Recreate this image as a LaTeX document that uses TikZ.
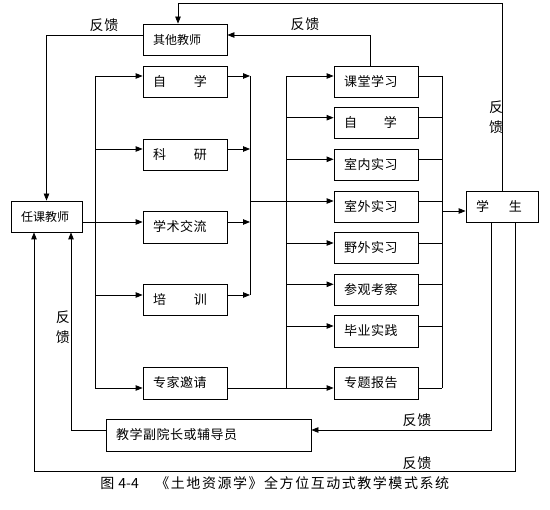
\documentclass[tikz,border=0pt]{standalone}
\usepackage{fontspec}
\setmainfont{Noto Sans CJK SC}
\newfontfamily\spacedfam[LetterSpace=4.0]{Noto Sans CJK SC}
\newfontfamily\fbfam[LetterSpace=4.0]{Noto Sans CJK SC}
\newfontfamily\capfam[LetterSpace=11.0]{Noto Sans CJK SC}
\newcommand\myboxfont{\spacedfam\fontsize{13pt}{13pt}\selectfont}
\newcommand\myplainfont{\fontsize{12pt}{12pt}\selectfont}
\newcommand\myfbfont{\fbfam\fontsize{14pt}{20pt}\selectfont}
\newcommand\mycapfont{\capfam\fontsize{14pt}{14pt}\selectfont}
\newcommand\mycapplain{\fontsize{14pt}{14pt}\selectfont}
\usetikzlibrary{arrows.meta}
\begin{document}
\begin{tikzpicture}[x=1pt,y=-1pt,line width=0.8pt,
  box/.style={draw,minimum height=31pt,inner xsep=10pt,inner ysep=0pt,align=left,text width=#1,font=\myboxfont},
  box/.default=64pt,
  arr/.style={-{Triangle[length=7pt,width=5.5pt]}},
  fb/.style={font=\myfbfont,inner sep=0pt,align=center}]
\useasboundingbox (0,0) rectangle (550,510);

% left column
\node[box,font=\myplainfont] (qita) at (185,39.5) {其他教师};
\node[box] (zixueA) at (185,81.5) {自\hspace{28pt}学};
\node[box] (keyan) at (185,154.5) {科\hspace{28pt}研};
\node[box,minimum height=32pt] (xueshu) at (185,227) {学术交流};
\node[box] (peixun) at (185,299.5) {培\hspace{28pt}训};
\node[box,minimum height=32pt] (zhuanjia) at (185,383) {专家邀请};
\node[box=51pt,font=\myplainfont] (renke) at (46.5,216.5) {任课教师};
\node[box=185pt,minimum height=32pt] (fuyuan) at (208.5,435) {教学副院长或辅导员};

% right column
\node[box] (ketang) at (376,81.5) {课堂学习};
\node[box] (zixueB) at (376,122.5) {自\hspace{27pt}学};
\node[box] (shinei) at (376,164.5) {室内实习};
\node[box] (shiwai) at (376,206.5) {室外实习};
\node[box] (yewai) at (376,247.5) {野外实习};
\node[box] (canguan) at (376,289.5) {参观考察};
\node[box,minimum height=32pt] (biye) at (376,331) {毕业实践};
\node[box,minimum height=32pt] (zhuanti) at (376,383) {专题报告};
\node[box=52pt] (xuesheng) at (502,206.5) {学\hspace{20pt}生};

% left bus
\coordinate (L1) at (95,76);
\coordinate (L2) at (95,149);
\coordinate (L4) at (95,295);
\coordinate (L5) at (95,388);
\draw (L1) -- (L5);
\draw[arr] (L1) -- (zixueA.west |- L1);
\draw[arr] (L2) -- (keyan.west |- L2);
\draw[arr] (renke.east |- 0,222) -- (xueshu.west |- 0,222);
\draw[arr] (L4) -- (peixun.west |- L4);
\draw[arr] (L5) -- (zhuanjia.west |- L5);

% middle bus
\coordinate (M1) at (250,76);
\coordinate (M2) at (250,149);
\coordinate (M3) at (250,222);
\coordinate (M4) at (250,295);
\coordinate (Mc) at (250,201);
\draw (M1) -- (M4);
\draw[arr] (zixueA.east |- M1) -- (M1);
\draw[arr] (keyan.east |- M2) -- (M2);
\draw[arr] (xueshu.east |- M3) -- (M3);
\draw[arr] (peixun.east |- M4) -- (M4);
\draw[arr] (Mc) -- (shiwai.west |- Mc);

% right-column left bus
\coordinate (R1) at (286,76);
\coordinate (R2) at (286,117.7);
\coordinate (R3) at (286,159.3);
\coordinate (R5) at (286,243);
\coordinate (R6) at (286,284.3);
\coordinate (R7) at (286,326);
\coordinate (R8) at (286,388);
\draw (R1) -- (R8);
\draw[arr] (R1) -- (ketang.west |- R1);
\draw[arr] (R2) -- (zixueB.west |- R2);
\draw[arr] (R3) -- (shinei.west |- R3);
\draw[arr] (R5) -- (yewai.west |- R5);
\draw[arr] (R6) -- (canguan.west |- R6);
\draw[arr] (R7) -- (biye.west |- R7);
\draw[arr] (zhuanjia.east |- R8) -- (zhuanti.west |- R8);

% right bus
\coordinate (S1) at (442,76);
\coordinate (S8) at (442,388);
\coordinate (Sx) at (442,211);
\draw (S1) -- (S8);
\draw (ketang.east |- S1) -- (S1);
\draw (zixueB.east |- R2) -- (S1 |- R2);
\draw (shinei.east |- R3) -- (S1 |- R3);
\draw (shiwai.east |- Mc) -- (S1 |- Mc);
\draw (yewai.east |- R5) -- (S1 |- R5);
\draw (canguan.east |- R6) -- (S1 |- R6);
\draw (biye.east |- R7) -- (S1 |- R7);
\draw (zhuanti.east |- S8) -- (S8);
\draw[arr] (Sx) -- (xuesheng.west |- Sx);

% feedback loops
\coordinate (T) at (178,3);
\draw[arr] (xuesheng.north) |- (T) -- (T |- qita.north);
\draw[arr] (ketang.north -| 370,0) |- (qita.east |- 0,35);
\draw[arr] (qita.west |- 0,35) -| (renke.north);
\draw[arr] (xuesheng.south -| 491,0) |- (fuyuan.east |- 0,430);
\coordinate (B) at (34,471);
\draw[arr] (xuesheng.south -| 515,0) |- (B) -- (B |- renke.south);
\draw[arr] (fuyuan.west |- 0,430) -| (renke.south -| 71,0);

% labels
\node[fb] (fb1) at (104,25) {反馈};
\node[fb] (fb2) at (305,24) {反馈};
\node[fb] (fb3) at (496,117) {反\\馈};
\node[fb] (fb4) at (63,327) {反\\馈};
\node[fb] (fb5) at (417,420) {反馈};
\node[fb] (fb6) at (417,463) {反馈};

% caption
\node[font=\mycapplain,anchor=west,inner sep=0pt] (cap1) at (100,483) {图\hspace{4pt}4-4};
\node[font=\mycapfont,anchor=west,inner sep=0pt] (cap2) at (155,483) {《土地资源学》全方位互动式教学模式系统};
\end{tikzpicture}
\end{document}
